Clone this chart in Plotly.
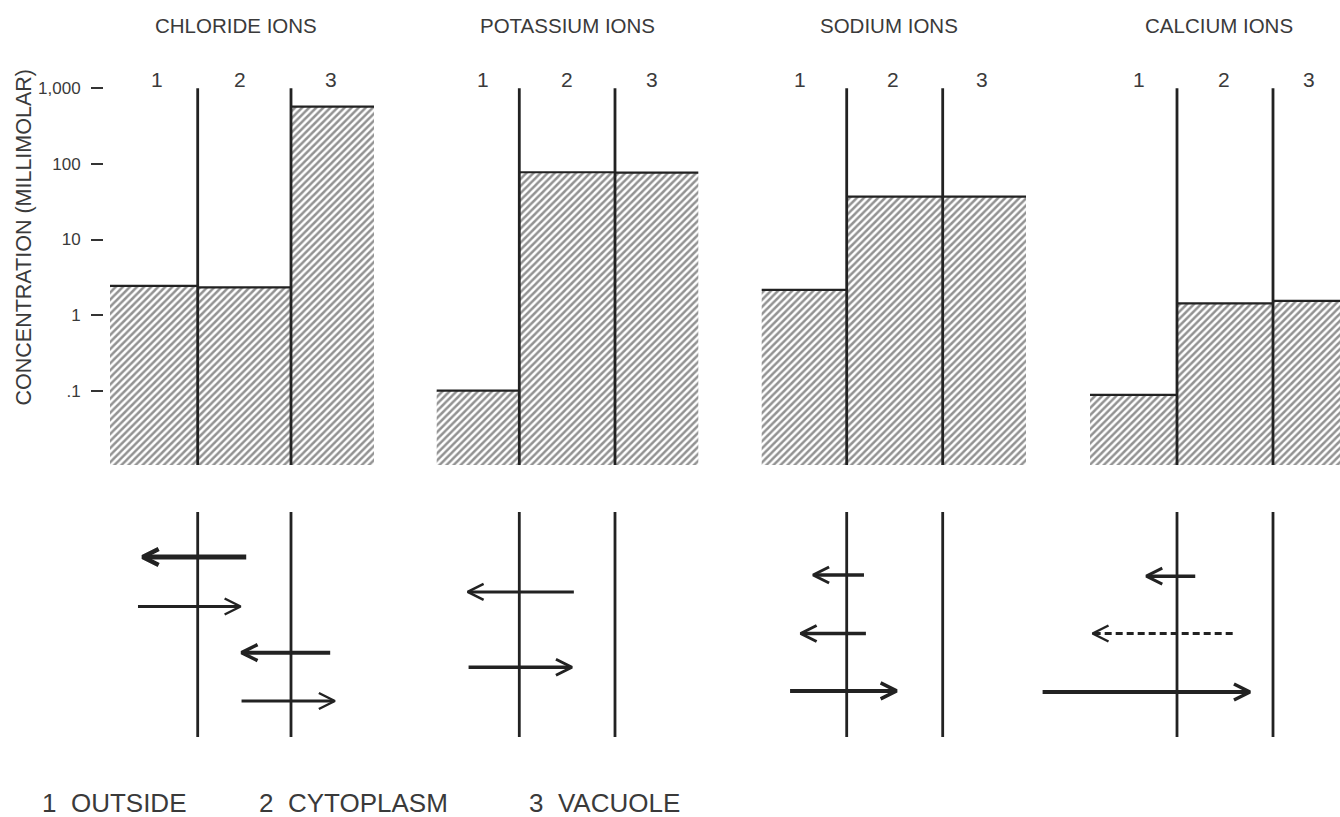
import plotly.graph_objects as go

W, H = 1340, 817

# ---------------- data ----------------
ions = ["CHLORIDE IONS", "POTASSIUM IONS", "SODIUM IONS", "CALCIUM IONS"]
compartments = ["1", "2", "3"]
legend_labels = ["1\u00a0\u00a0OUTSIDE", "2\u00a0\u00a0CYTOPLASM", "3\u00a0\u00a0VACUOLE"]
y_title = "CONCENTRATION (MILLIMOLAR)"

# concentration (millimolar) in compartments 1 (outside), 2 (cytoplasm), 3 (vacuole)
chloride_mM = [2.43, 2.33, 571]
potassium_mM = [0.10, 77.5, 76.6]
sodium_mM = [2.15, 36.8, 36.8]
calcium_mM = [0.088, 1.43, 1.54]

tick_vals = [0.1, 1, 10, 100, 1000]
tick_text = [".1", "1", "10", "100", "1,000"]

# ion fluxes: arrow tail, arrow tip (compartment axis units), row (0 = top, 1 = bottom)
chloride_flux_from = [2.02, 0.86, 2.92, 1.97]
chloride_flux_to = [0.91, 1.96, 1.97, 2.97]
chloride_flux_row = [0.20, 0.42, 0.625, 0.84]

potassium_flux_from = [2.07, 0.97]
potassium_flux_to = [0.96, 2.05]
potassium_flux_row = [0.355, 0.69]

sodium_flux_from = [1.68, 1.70, 0.91]
sodium_flux_to = [1.15, 1.02, 2.02]
sodium_flux_row = [0.28, 0.54, 0.795]

calcium_flux_from = [1.69, 2.08, 0.10]
calcium_flux_to = [1.18, 0.62, 2.26]
calcium_flux_row = [0.285, 0.54, 0.80]
calcium_flux_dashed = [False, True, False]

# ---------------- layout / style ----------------
FONT = "Liberation Sans, Arial, Helvetica, sans-serif"
INK = "#222222"
TXT = "#3a3a3a"

# per panel: membrane-1 px, px per compartment unit, left bar edge px, right bar edge px
geom = [
    (197.7, 93.3, 110.0, 374.0),
    (519.3, 95.7, 436.7, 698.3),
    (846.7, 96.0, 761.7, 1026.0),
    (1177.0, 96.0, 1090.0, 1340.0),
]
arrow_widths = [[5, 3, 4, 3], [3, 3.5], [3.5, 3.5, 4], [3.5, 3, 4]]
digit_px = [[157, 240, 331], [483, 567, 652], [800, 893, 982], [1139, 1224, 1309]]
title_px = [236, 567.5, 889.5, 1218.5]

UP_TOP, UP_BOT = 55.0, 465.0          # pixel rows of upper plot area
DEC_PX, Y01_PX = 75.6, 390.7          # px per decade, px row of 0.1
LO_TOP, LO_BOT = 512.0, 737.0          # pixel rows of lower (flux) area

ylog_lo = -1 - (UP_BOT - Y01_PX) / DEC_PX
ylog_hi = -1 + (Y01_PX - UP_TOP) / DEC_PX

panels = [
    (chloride_mM, chloride_flux_from, chloride_flux_to, chloride_flux_row, [False] * 4),
    (potassium_mM, potassium_flux_from, potassium_flux_to, potassium_flux_row, [False] * 2),
    (sodium_mM, sodium_flux_from, sodium_flux_to, sodium_flux_row, [False] * 3),
    (calcium_mM, calcium_flux_from, calcium_flux_to, calcium_flux_row, calcium_flux_dashed),
]

fig = go.Figure()
layout = dict(
    width=W, height=H, margin=dict(l=0, r=0, t=0, b=0),
    paper_bgcolor="white", plot_bgcolor="rgba(0,0,0,0)",
    showlegend=False, font=dict(family=FONT, color=TXT),
)
annotations = []

def ax_id(n):
    return "" if n == 1 else str(n)

for i, (conc, f_from, f_to, f_row, f_dash) in enumerate(panels):
    line1, u, left_px, right_px = geom[i]
    x0px = line1 - 1.5 * u            # compartment axis value 0.0
    x1px = min(line1 + 2 * u, W)      # compartment axis value 3.5 (clipped at page edge)
    xr = [0.0, (x1px - x0px) / u]
    w1 = (line1 - left_px) / u
    w3 = (right_px - (line1 + u)) / u

    up = i + 1
    lo = i + 5
    xu, yu = "x" + ax_id(up), "y" + ax_id(up)
    xl, yl = "x" + ax_id(lo), "y" + ax_id(lo)

    xaxis_common = dict(domain=[x0px / W, x1px / W], range=xr, visible=False, fixedrange=True)
    layout["xaxis" + ax_id(up)] = dict(xaxis_common, anchor=yu)
    layout["xaxis" + ax_id(lo)] = dict(xaxis_common, anchor=yl)

    ydict = dict(domain=[1 - UP_BOT / H, 1 - UP_TOP / H], type="log",
                 range=[ylog_lo, ylog_hi], fixedrange=True, showgrid=False, zeroline=False)
    if i == 0:
        ydict.update(anchor="free", position=103 / W, visible=True,
                     showline=False, ticks="outside", ticklen=12, tickwidth=2,
                     tickcolor="#333333", tickvals=tick_vals, ticktext=tick_text,
                     tickfont=dict(size=17, color=TXT, family=FONT), ticklabelstandoff=7)
    else:
        ydict.update(anchor=xu, visible=False)
    layout["yaxis" + ax_id(up)] = ydict
    layout["yaxis" + ax_id(lo)] = dict(domain=[1 - LO_BOT / H, 1 - LO_TOP / H], range=[1, 0],
                                       visible=False, fixedrange=True, anchor=xl)

    # hatched concentration bars
    fig.add_trace(go.Bar(
        x=[1, 2, 3], y=conc, width=[w1, 1, w3], offset=[0.5 - w1, -0.5, -0.5],
        xaxis=xu, yaxis=yu, hoverinfo="skip",
        marker=dict(color="white", line=dict(width=0),
                    pattern=dict(shape="/", fgcolor="#262626", bgcolor="white",
                                 size=5, solidity=0.5)),
    ))
    # bar top edges
    edges = [(1.5 - w1, 1.5), (1.5, 2.5), (2.5, 2.5 + w3)]
    ex, ey = [], []
    for (a, b), v in zip(edges, conc):
        ex += [a, b, None]
        ey += [v, v, None]
    fig.add_trace(go.Scatter(x=ex, y=ey, mode="lines", xaxis=xu, yaxis=yu,
                             line=dict(color=INK, width=2.2), hoverinfo="skip"))
    # membranes (upper)
    ybot = 10 ** ylog_lo
    fig.add_trace(go.Scatter(x=[1.5, 1.5, None, 2.5, 2.5], y=[ybot, 1000, None, ybot, 1000],
                             mode="lines", xaxis=xu, yaxis=yu,
                             line=dict(color=INK, width=2.8), hoverinfo="skip"))
    # membranes (lower)
    fig.add_trace(go.Scatter(x=[1.5, 1.5, None, 2.5, 2.5], y=[0, 1, None, 0, 1],
                             mode="lines", xaxis=xl, yaxis=yl,
                             line=dict(color=INK, width=2.8), hoverinfo="skip"))
    # flux arrows
    head_dx = 16.0 / u
    head_dy = 8.0 / (LO_BOT - LO_TOP)
    for k, (a, b, r, dsh) in enumerate(zip(f_from, f_to, f_row, f_dash)):
        lw = arrow_widths[i][k]
        d = 1 if b > a else -1
        shaft_end = b - d * (lw * 0.35 / u)
        fig.add_trace(go.Scatter(x=[a, shaft_end], y=[r, r], mode="lines", xaxis=xl, yaxis=yl,
                                 line=dict(color=INK, width=lw, dash="7px,4px" if dsh else "solid"),
                                 hoverinfo="skip"))
        fig.add_trace(go.Scatter(x=[b - d * head_dx, b, b - d * head_dx],
                                 y=[r - head_dy, r, r + head_dy],
                                 mode="lines", xaxis=xl, yaxis=yl,
                                 line=dict(color=INK, width=max(lw - 0.5, 2.5)),
                                 hoverinfo="skip"))

    # compartment numbers
    for j, c in enumerate(compartments):
        annotations.append(dict(text=c, xref="paper", yref="paper",
                                x=digit_px[i][j] / W, y=1 - 80 / H,
                                xanchor="center", yanchor="middle", showarrow=False,
                                font=dict(size=21, color=TXT, family=FONT)))
    # panel title
    annotations.append(dict(text=ions[i], xref="paper", yref="paper",
                            x=title_px[i] / W, y=1 - 25.5 / H,
                            xanchor="center", yanchor="middle", showarrow=False,
                            font=dict(size=20.5, color=TXT, family=FONT)))

# y-axis title
annotations.append(dict(text=y_title, xref="paper", yref="paper", x=23 / W, y=1 - 237.5 / H,
                        textangle=-90, xanchor="center", yanchor="middle", showarrow=False,
                        font=dict(size=21.5, color=TXT, family=FONT)))
# key
for lbl, px in zip(legend_labels, [40, 257, 527]):
    annotations.append(dict(text=lbl, xref="paper", yref="paper", x=px / W, y=1 - 803 / H,
                            xanchor="left", yanchor="middle", showarrow=False,
                            font=dict(size=26, color=TXT, family=FONT)))

layout["annotations"] = annotations
fig.update_layout(**layout)

fig.write_html("out.html", config={"displayModeBar": False, "staticPlot": True},
               post_script="document.body.style.margin='0';document.body.style.overflow='hidden';")
